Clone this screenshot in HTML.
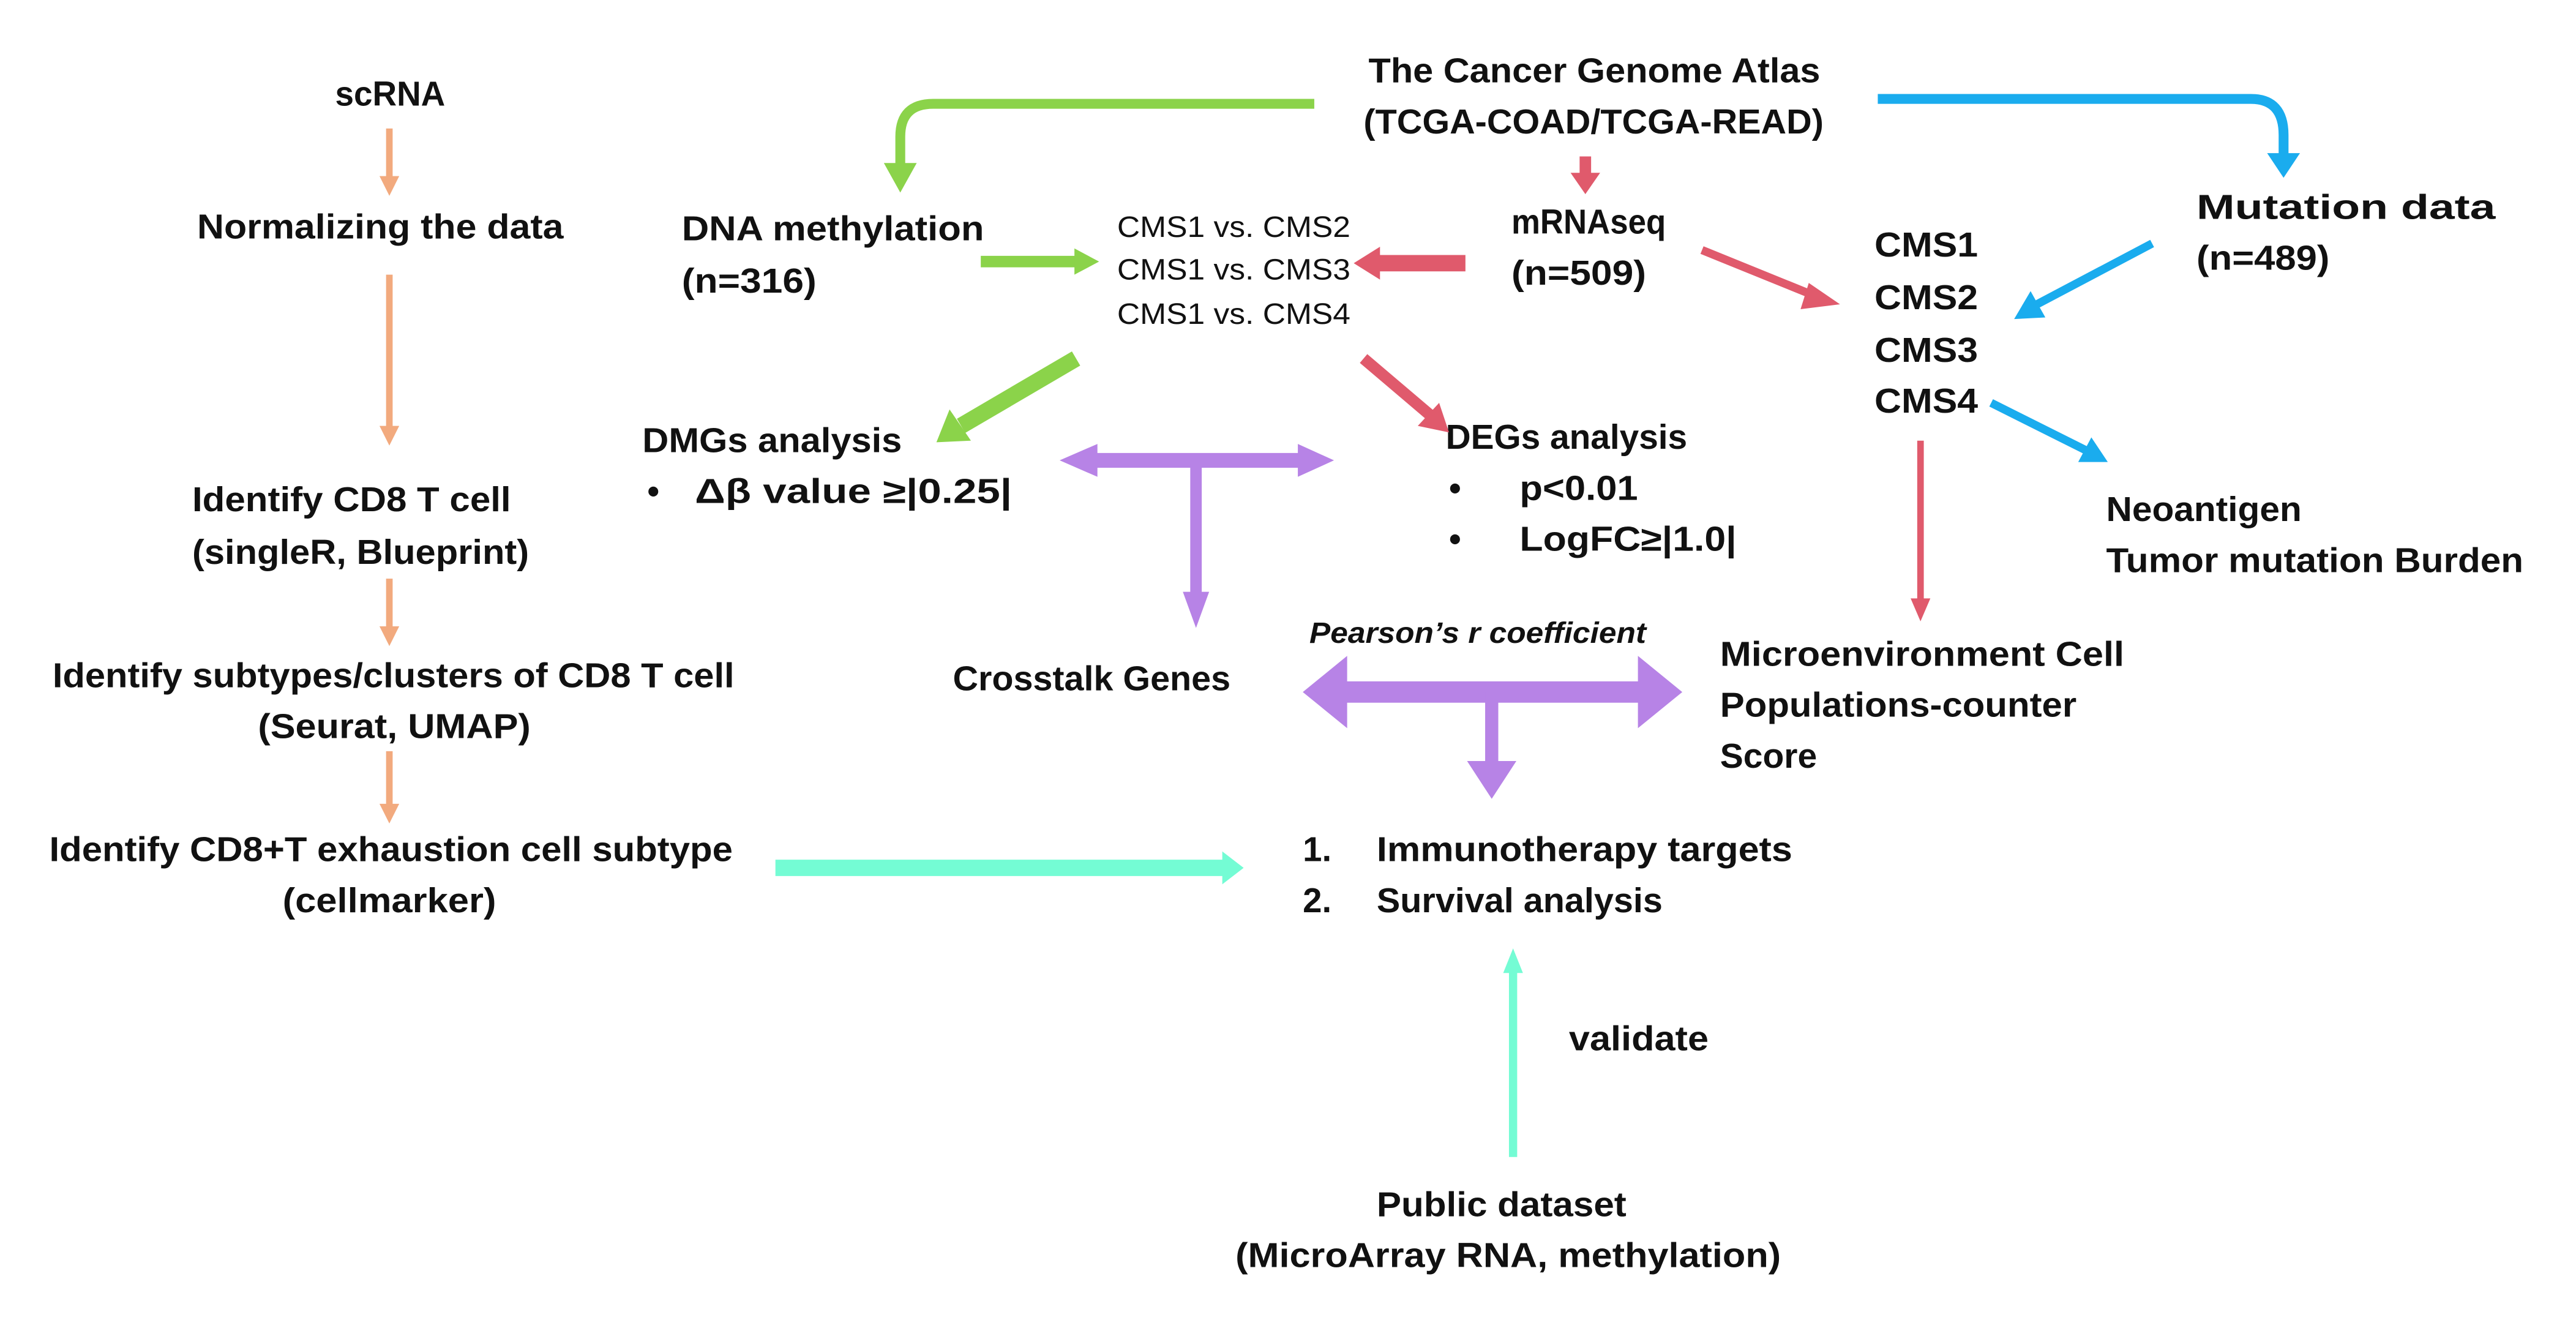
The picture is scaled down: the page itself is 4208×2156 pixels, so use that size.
<!DOCTYPE html>
<html><head><meta charset="utf-8"><style>
html,body{margin:0;padding:0;background:#fff}
svg{display:block}
text{font-family:"Liberation Sans",sans-serif;font-weight:bold;fill:#111}
</style></head><body>
<svg width="4208" height="2156" viewBox="0 0 1568 803" xmlns="http://www.w3.org/2000/svg">
<defs>
<marker id="ho" markerWidth="4" markerHeight="4" refX="2" refY="2" orient="auto" markerUnits="strokeWidth"><path d="M0,0 L4,2 L0,4z" fill="#F2AA7E"/></marker>
</defs>
<g font-size="21" lengthAdjust="spacingAndGlyphs">
<text x="204" y="64" textLength="67" lengthAdjust="spacingAndGlyphs">scRNA</text>
<text x="120" y="145" textLength="223" lengthAdjust="spacingAndGlyphs">Normalizing the data</text>
<text x="117" y="311" textLength="194" lengthAdjust="spacingAndGlyphs">Identify CD8 T cell</text>
<text x="117" y="343" textLength="205" lengthAdjust="spacingAndGlyphs">(singleR, Blueprint)</text>
<text x="32" y="418" textLength="415" lengthAdjust="spacingAndGlyphs">Identify subtypes/clusters of CD8 T cell</text>
<text x="157" y="449" textLength="166" lengthAdjust="spacingAndGlyphs">(Seurat, UMAP)</text>
<text x="30" y="524" textLength="416" lengthAdjust="spacingAndGlyphs">Identify CD8+T exhaustion cell subtype</text>
<text x="172" y="555" textLength="130" lengthAdjust="spacingAndGlyphs">(cellmarker)</text>
<text x="833" y="50" textLength="275" lengthAdjust="spacingAndGlyphs">The Cancer Genome Atlas</text>
<text x="830" y="81" textLength="280" lengthAdjust="spacingAndGlyphs">(TCGA-COAD/TCGA-READ)</text>
<text x="415" y="146" textLength="184" lengthAdjust="spacingAndGlyphs">DNA methylation</text>
<text x="415" y="178" textLength="82" lengthAdjust="spacingAndGlyphs">(n=316)</text>
<text x="920" y="142" textLength="94" lengthAdjust="spacingAndGlyphs">mRNAseq</text>
<text x="920" y="173" textLength="82" lengthAdjust="spacingAndGlyphs">(n=509)</text>
<text x="1141" y="156" textLength="63" lengthAdjust="spacingAndGlyphs">CMS1</text>
<text x="1141" y="188" textLength="63" lengthAdjust="spacingAndGlyphs">CMS2</text>
<text x="1141" y="220" textLength="63" lengthAdjust="spacingAndGlyphs">CMS3</text>
<text x="1141" y="251" textLength="63" lengthAdjust="spacingAndGlyphs">CMS4</text>
<text x="1337" y="133" textLength="182" lengthAdjust="spacingAndGlyphs">Mutation data</text>
<text x="1337" y="164" textLength="81" lengthAdjust="spacingAndGlyphs">(n=489)</text>
<text x="391" y="275" textLength="158" lengthAdjust="spacingAndGlyphs">DMGs analysis</text>
<text x="394" y="306">•</text>
<text x="423" y="306" textLength="193" lengthAdjust="spacingAndGlyphs">Δβ value ≥|0.25|</text>
<text x="880" y="273" textLength="147" lengthAdjust="spacingAndGlyphs">DEGs analysis</text>
<text x="882" y="304">•</text>
<text x="925" y="304" textLength="72" lengthAdjust="spacingAndGlyphs">p&lt;0.01</text>
<text x="882" y="335">•</text>
<text x="925" y="335" textLength="132" lengthAdjust="spacingAndGlyphs">LogFC≥|1.0|</text>
<text x="1282" y="317" textLength="119" lengthAdjust="spacingAndGlyphs">Neoantigen</text>
<text x="1282" y="348" textLength="254" lengthAdjust="spacingAndGlyphs">Tumor mutation Burden</text>
<text x="580" y="420" textLength="169" lengthAdjust="spacingAndGlyphs">Crosstalk Genes</text>
<text x="1047" y="405" textLength="246" lengthAdjust="spacingAndGlyphs">Microenvironment Cell</text>
<text x="1047" y="436" textLength="217" lengthAdjust="spacingAndGlyphs">Populations-counter</text>
<text x="1047" y="467" textLength="59" lengthAdjust="spacingAndGlyphs">Score</text>
<text x="793" y="524">1.</text>
<text x="838" y="524" textLength="253" lengthAdjust="spacingAndGlyphs">Immunotherapy targets</text>
<text x="793" y="555">2.</text>
<text x="838" y="555" textLength="174" lengthAdjust="spacingAndGlyphs">Survival analysis</text>
<text x="955" y="639" textLength="85" lengthAdjust="spacingAndGlyphs">validate</text>
<text x="838" y="740" textLength="152" lengthAdjust="spacingAndGlyphs">Public dataset</text>
<text x="752" y="771" textLength="332" lengthAdjust="spacingAndGlyphs">(MicroArray RNA, methylation)</text>
</g>
<g font-size="18">
<text x="680" y="144" textLength="142" lengthAdjust="spacingAndGlyphs" style="font-weight:normal">CMS1 vs. CMS2</text>
<text x="680" y="170" textLength="142" lengthAdjust="spacingAndGlyphs" style="font-weight:normal">CMS1 vs. CMS3</text>
<text x="680" y="197" textLength="142" lengthAdjust="spacingAndGlyphs" style="font-weight:normal">CMS1 vs. CMS4</text>
<text x="797" y="391" textLength="205" lengthAdjust="spacingAndGlyphs" font-style="italic">Pearson’s r coefficient</text>
</g>
<!-- orange arrows -->
<g stroke="#F2AA7E" stroke-width="4" fill="#F2AA7E">
<line x1="237" y1="78" x2="237" y2="108"/><path d="M231,107 L243,107 L237,119z" stroke="none"/>
<line x1="237" y1="167" x2="237" y2="260"/><path d="M231,259 L243,259 L237,271z" stroke="none"/>
<line x1="237" y1="352" x2="237" y2="382"/><path d="M231,381 L243,381 L237,393z" stroke="none"/>
<line x1="237" y1="457" x2="237" y2="490"/><path d="M231,489 L243,489 L237,501z" stroke="none"/>
</g>
<!-- green -->
<g fill="#8BD34A" stroke="#8BD34A">
<path d="M800,63 L568,63 Q548,63 548,83 L548,100" fill="none" stroke-width="6"/>
<path d="M538,99 L558,99 L548,117z" stroke="none"/>
<line x1="597" y1="159" x2="656" y2="159" stroke-width="7"/><path d="M654,151 L669,159 L654,167z" stroke="none"/>
<line x1="655" y1="218" x2="585" y2="259" stroke-width="10"/><path d="M578,249 L570,269 L591,268z" stroke="none"/>
</g>
<!-- red -->
<g fill="#E05A6C" stroke="#E05A6C">
<line x1="965" y1="95" x2="965" y2="106" stroke-width="7"/><path d="M956,105 L974,105 L965,118z" stroke="none"/>
<line x1="892" y1="160" x2="838" y2="160" stroke-width="10"/><path d="M840,150 L824,160 L840,170z" stroke="none"/>
<line x1="1036" y1="152" x2="1105" y2="180" stroke-width="5"/><path d="M1101,172 L1120,185 L1096,188z" stroke="none"/>
<line x1="830" y1="218" x2="870" y2="252" stroke-width="7"/><path d="M863,259 L882,263 L876,245z" stroke="none"/>
<line x1="1169" y1="268" x2="1169" y2="365" stroke-width="4"/><path d="M1163,364 L1175,364 L1169,378z" stroke="none"/>
</g>
<!-- blue -->
<g fill="#1AACEE" stroke="#1AACEE">
<path d="M1143,60 L1370,60 Q1390,60 1390,82 L1390,94" fill="none" stroke-width="6"/>
<path d="M1380,93 L1400,93 L1390,108z" stroke="none"/>
<line x1="1310" y1="148" x2="1238" y2="186" stroke-width="5"/><path d="M1236,177 L1226,194 L1245,193z" stroke="none"/>
<line x1="1212" y1="245" x2="1270" y2="274" stroke-width="5"/><path d="M1265,281 L1283,281 L1273,266z" stroke="none"/>
</g>
<!-- purple -->
<g fill="#B783E6" stroke="#B783E6">
<line x1="665" y1="280" x2="795" y2="280" stroke-width="9"/>
<path d="M645,280 L668,270 L668,290z" stroke="none"/><path d="M812,280 L790,270 L790,290z" stroke="none"/>
<line x1="728" y1="282" x2="728" y2="362" stroke-width="7"/><path d="M720,360 L736,360 L728,382z" stroke="none"/>
<line x1="812" y1="421" x2="1005" y2="421" stroke-width="13"/>
<path d="M793,421 L820,399 L820,443z" stroke="none"/><path d="M1024,421 L997,399 L997,443z" stroke="none"/>
<line x1="908" y1="421" x2="908" y2="466" stroke-width="8"/><path d="M893,463 L923,463 L908,486z" stroke="none"/>
</g>
<!-- teal -->
<g fill="#74FCD4" stroke="#74FCD4">
<line x1="472" y1="528" x2="746" y2="528" stroke-width="10"/><path d="M744,518 L757,528 L744,538z" stroke="none"/>
<line x1="921" y1="704" x2="921" y2="590" stroke-width="5"/><path d="M915,592 L927,592 L921,577z" stroke="none"/>
</g>
</svg>
</body></html>
